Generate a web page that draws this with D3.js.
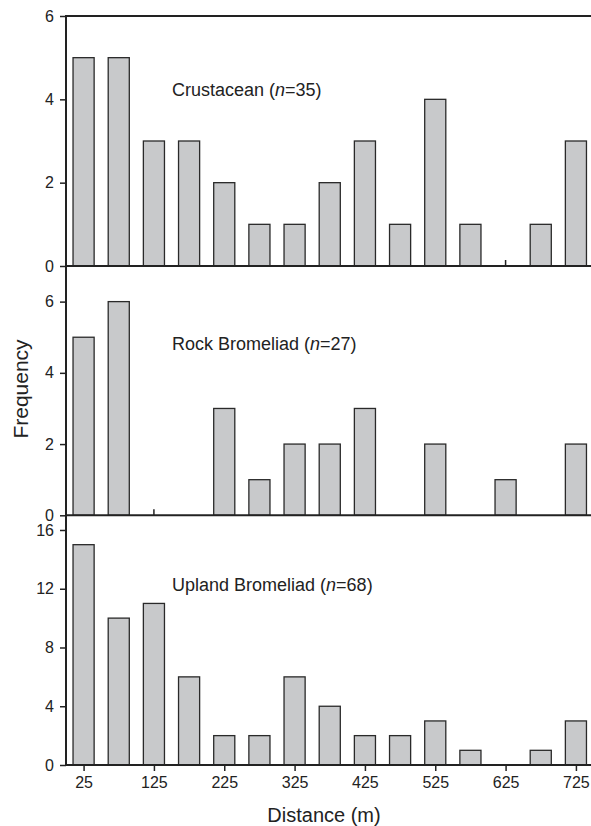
<!DOCTYPE html>
<html>
<head>
<meta charset="utf-8">
<script src="https://cdn.jsdelivr.net/npm/d3@7"></script>
<style>
  html, body { margin: 0; padding: 0; background: #fff; }
  svg { display: block; font-family: "Liberation Sans", Arial, Helvetica, sans-serif; }
</style>
</head>
<body>
<svg id="chart" width="591" height="826"></svg>
<script>
// ---- data ----
const binCenters = [25, 75, 125, 175, 225, 275, 325, 375, 425, 475, 525, 575, 625, 675, 725];
const xTickValues = [25, 125, 225, 325, 425, 525, 625, 725];
const crustacean = [5, 5, 3, 3, 2, 1, 1, 2, 3, 1, 4, 1, 0, 1, 3];
const rockBromeliad = [5, 6, 0, 0, 3, 1, 2, 2, 3, 0, 2, 0, 1, 0, 2];
const uplandBromeliad = [15, 10, 11, 6, 2, 2, 6, 4, 2, 2, 3, 1, 0, 1, 3];
const panelNames = ["Crustacean", "Rock Bromeliad", "Upland Bromeliad"];
const panelN = [35, 27, 68];
const yMaxes = [6, 7, 17];
const yTicks = [[0, 2, 4, 6], [0, 2, 4, 6], [0, 4, 8, 12, 16]];
const xLabel = "Distance (m)";
const yLabel = "Frequency";

// ---- layout ----
const svg = d3.select("#chart");
const left = 66, binWidth = 50;
const x = d3.scaleLinear().domain([0, 750]).range([left, 593.5]);
const panelTops = [16, 266, 515.3];
const panelBottoms = [266, 515.3, 765];
const series = [crustacean, rockBromeliad, uplandBromeliad];
const labelBaselines = [96, 350, 591];
const barW = (x(binWidth) - x(0)) * 0.6;

series.forEach((vals, i) => {
  const y = d3.scaleLinear().domain([0, yMaxes[i]]).range([panelBottoms[i], panelTops[i]]);
  const g = svg.append("g");

  // inward ticks (top & middle panels) drawn beneath bars
  if (i < 2) {
    g.selectAll("line.itick").data(xTickValues).join("line")
      .attr("x1", d => x(d)).attr("x2", d => x(d))
      .attr("y1", y(0)).attr("y2", y(0) - 6)
      .attr("stroke", "#222").attr("stroke-width", 1.5);
  }

  // bars
  g.selectAll("rect").data(vals.map((v, j) => ({ c: binCenters[j], v })).filter(d => d.v > 0)).join("rect")
    .attr("x", d => x(d.c) - barW / 2)
    .attr("width", barW)
    .attr("y", d => y(d.v))
    .attr("height", d => y(0) - y(d.v))
    .attr("fill", "#c8c9cb")
    .attr("stroke", "#2a2a2a")
    .attr("stroke-width", 1.3);

  // y axis
  const ya = g.append("g").attr("transform", `translate(${left},0)`)
    .call(d3.axisLeft(y).tickValues(yTicks[i]).tickSize(6).tickPadding(6).tickFormat(d3.format("d")));
  ya.select(".domain").remove();
  ya.selectAll(".tick line").attr("stroke", "#222").attr("stroke-width", 1.5);
  ya.selectAll(".tick text").attr("font-size", 16).attr("fill", "#222")
    .attr("font-family", "'Liberation Sans', Arial, sans-serif");

  // baseline
  g.append("line").attr("x1", left).attr("x2", 591).attr("y1", y(0)).attr("y2", y(0))
    .attr("stroke", "#222").attr("stroke-width", 2);

  // panel label
  const t = g.append("text").attr("x", 172).attr("y", labelBaselines[i])
    .attr("font-size", 18).attr("fill", "#222");
  t.append("tspan").text(panelNames[i] + " (");
  t.append("tspan").attr("font-style", "italic").text("n");
  t.append("tspan").text("=" + panelN[i] + ")");
});

// top border
svg.append("line").attr("x1", left).attr("x2", 591).attr("y1", panelTops[0]).attr("y2", panelTops[0])
  .attr("stroke", "#222").attr("stroke-width", 2);

// left axis line
svg.append("line").attr("x1", left).attr("x2", left).attr("y1", panelTops[0] - 1).attr("y2", 766)
  .attr("stroke", "#222").attr("stroke-width", 2);

// bottom x axis
const xa = svg.append("g").attr("transform", `translate(0,${panelBottoms[2]})`)
  .call(d3.axisBottom(x).tickValues(xTickValues).tickSize(6).tickPadding(6).tickFormat(d3.format("d")));
xa.select(".domain").remove();
xa.selectAll(".tick line").attr("stroke", "#222").attr("stroke-width", 1.5);
xa.selectAll(".tick text").attr("font-size", 16).attr("fill", "#222")
  .attr("font-family", "'Liberation Sans', Arial, sans-serif");

// axis titles
svg.append("text").attr("x", 324).attr("y", 822).attr("text-anchor", "middle")
  .attr("font-size", 20).attr("fill", "#222").text(xLabel);
svg.append("text").attr("transform", "translate(28,389) rotate(-90)").attr("text-anchor", "middle")
  .attr("font-size", 21).attr("fill", "#222").text(yLabel);
</script>
</body>
</html>
